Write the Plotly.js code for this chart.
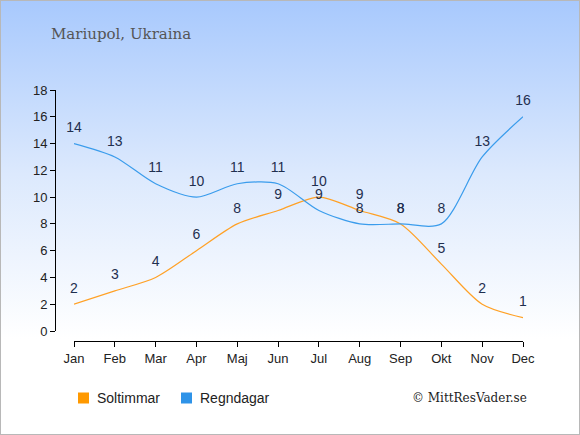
<!DOCTYPE html>
<html><head><meta charset="utf-8">
<script src="https://cdn.plot.ly/plotly-3.0.1.min.js"></script>
<style>
html,body{margin:0;padding:0;}
#wrap{width:578px;height:433px;border:1px solid #b8b8b8;background:linear-gradient(to bottom,#a8c9fd 0%,#dce9fd 40%,#ffffff 78%,#ffffff 100%);position:relative;}
#chart{width:578px;height:433px;}
</style></head><body>
<div id="wrap"><div id="chart"></div></div>
<script>
const months = ["Jan","Feb","Mar","Apr","Maj","Jun","Jul","Aug","Sep","Okt","Nov","Dec"];
const soltimmar = [2,3,4,6,8,9,10,9,8,5,2,1];
const regndagar = [14,13,11,10,11,11,9,8,8,8,13,16];
const yTicks = [0,2,4,6,8,10,12,14,16,18];
const seriesNames = ["Soltimmar","Regndagar"];

const orange = "#ffa126";
const blue = "#3a9cec";
const legendColors = ["#ff9900","#2e93e8"];
const labelFont = {family:"Liberation Sans, Arial, sans-serif", size:14, color:"#1f2f4f"};

const traces = [
  {x:months, y:soltimmar, type:"scatter", mode:"lines+markers+text", text:soltimmar.map(String),
   textposition:"top center", textfont:labelFont, line:{color:orange,width:1.2,shape:"spline",smoothing:0.8},
   marker:{size:11, opacity:0}, showlegend:false, hoverinfo:"skip", cliponaxis:false},
  {x:months, y:regndagar, type:"scatter", mode:"lines+markers+text", text:regndagar.map(String),
   textposition:"top center", textfont:labelFont, line:{color:blue,width:1.2,shape:"spline",smoothing:0.8},
   marker:{size:11, opacity:0}, showlegend:false, hoverinfo:"skip", cliponaxis:false}
];

const W=578, H=433, L=50, R=38, T=80, B=78;
const pw=W-L-R, ph=H-T-B;
const px = v => (v-L)/pw;
const py = v => (H-B-v)/ph;
const legY = 397;
const legSq = [77, 180];
const shapes = legSq.map((x0,i)=>({type:"rect", xref:"paper", yref:"paper",
  x0:px(x0), x1:px(x0+11), y0:py(legY+5.5), y1:py(legY-5.5), fillcolor:legendColors[i], line:{width:0}}));
const legendAnn = legSq.map((x0,i)=>({text:seriesNames[i], xref:"paper", yref:"paper", x:px(x0+17), xanchor:"left",
  y:py(legY), yanchor:"middle", showarrow:false,
  font:{family:"Liberation Sans, Arial, sans-serif", size:14, color:"#222"}}));

const layout = {
  width:W, height:H,
  margin:{l:L,r:R,t:T,b:B},
  paper_bgcolor:"rgba(0,0,0,0)", plot_bgcolor:"rgba(0,0,0,0)",
  showlegend:false,
  title:{text:"Mariupol, Ukraina", x:50/W, xanchor:"left", y:1-33/H, yanchor:"middle",
         font:{family:"DejaVu Serif, serif", size:15, color:"#555555"}},
  xaxis:{type:"category", range:[0,11], domain:[px(73),px(522)],
         anchor:"free", position:py(340),
         showline:true, linecolor:"#000", linewidth:1, ticks:"outside", ticklen:5, tickcolor:"#000",
         showgrid:false, zeroline:false, fixedrange:true,
         tickfont:{family:"Liberation Sans, Arial, sans-serif", size:13, color:"#222"}},
  yaxis:{range:[0,18], domain:[py(330),py(89)], tickvals:yTicks,
         anchor:"free", position:px(54),
         showline:true, linecolor:"#000", linewidth:1, ticks:"outside", ticklen:5, tickcolor:"#000",
         showgrid:false, zeroline:false, fixedrange:true,
         tickfont:{family:"Liberation Sans, Arial, sans-serif", size:13, color:"#222"}},
  shapes:shapes,
  annotations:legendAnn.concat([{text:"© MittResVader.se", xref:"paper", yref:"paper", x:px(528), xanchor:"right",
                y:py(legY), yanchor:"middle", showarrow:false,
                font:{family:"DejaVu Serif, serif", size:12, color:"#222"}}])
};
Plotly.newPlot("chart", traces, layout, {displayModeBar:false, staticPlot:true});
</script>
</body></html>
